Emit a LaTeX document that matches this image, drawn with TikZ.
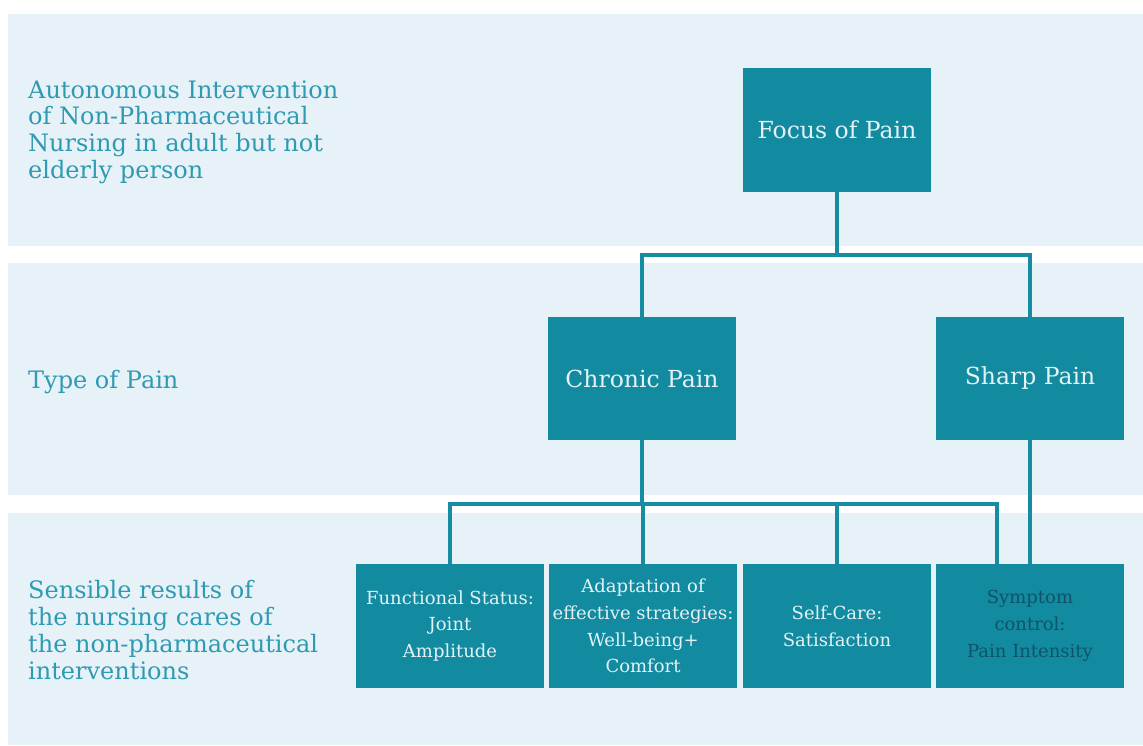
\documentclass[tikz,border=0pt]{standalone}
\usepackage{fontspec}
\setmainfont{DejaVu Serif}
\definecolor{bandc}{HTML}{E7F1F8}
\definecolor{boxc}{HTML}{128BA1}
\definecolor{linec}{HTML}{168CA2}
\definecolor{labc}{HTML}{2E9BB3}
\definecolor{boxtext}{HTML}{E4F2F5}
\definecolor{darktext}{HTML}{0E5368}
\begin{document}
\begin{tikzpicture}[x=1pt,y=-1pt,
  box/.style={fill=boxc, minimum width=188pt, minimum height=123.5pt, inner sep=0pt, text=boxtext, align=center},
  bigtext/.style={font=\fontsize{23.5}{26.7}\selectfont},
  smalltext/.style={font=\fontsize{18}{26.7}\selectfont},
  conn/.style={draw=linec, line width=3.2pt},
  lab/.style={anchor=west, align=left, text=labc, inner sep=0pt, font=\fontsize{24}{26.7}\selectfont}]
\useasboundingbox (0,0) rectangle (1143,745);
\fill[bandc] (8,14) rectangle (1143,245.5);
\fill[bandc] (8,263) rectangle (1143,494.5);
\fill[bandc] (8,513) rectangle (1143,745);

\node[lab] (l1) at (28,132) {Autonomous Intervention\\of Non-Pharmaceutical\\Nursing in adult but not\\elderly person};
\node[lab] (l2) at (28,382) {Type of Pain};
\node[lab] (l3) at (28,630) {Sensible results of\\the nursing cares of\\the non-pharmaceutical\\interventions};

\node[box,bigtext] (focus) at (837,130) {Focus of Pain};
\node[box,bigtext] (chronic) at (642,378.5) {Chronic Pain};
\node[box,bigtext] (sharp) at (1030,378.5) {Sharp Pain};
\node[box,smalltext] (b1) at (450,626) {Functional Status:\\Joint\\Amplitude};
\node[box,smalltext] (b2) at (643,626) {Adaptation of\\effective strategies:\\Well-being+\\Comfort};
\node[box,smalltext] (b3) at (837,626) {Self-Care:\\Satisfaction};
\node[box,smalltext,text=darktext] (b4) at (1030,626) {Symptom\\control:\\Pain Intensity};

\coordinate (j1) at (837,255);
\coordinate (j2) at (643,504);
\coordinate (b4in) at (997,564.25);

\draw[conn] (focus.south) -- (j1);
\draw[conn] (chronic.north) |- (j1) -| (sharp.north);
\draw[conn] (chronic.south) -- (chronic.south |- j2);
\draw[conn] (b1.north) |- (j2) -| (b4in);
\draw[conn] (b2.north) -- (b2.north |- j2);
\draw[conn] (b3.north) -- (b3.north |- j2);
\draw[conn] (sharp.south) -- (b4.north);
\end{tikzpicture}
\end{document}
